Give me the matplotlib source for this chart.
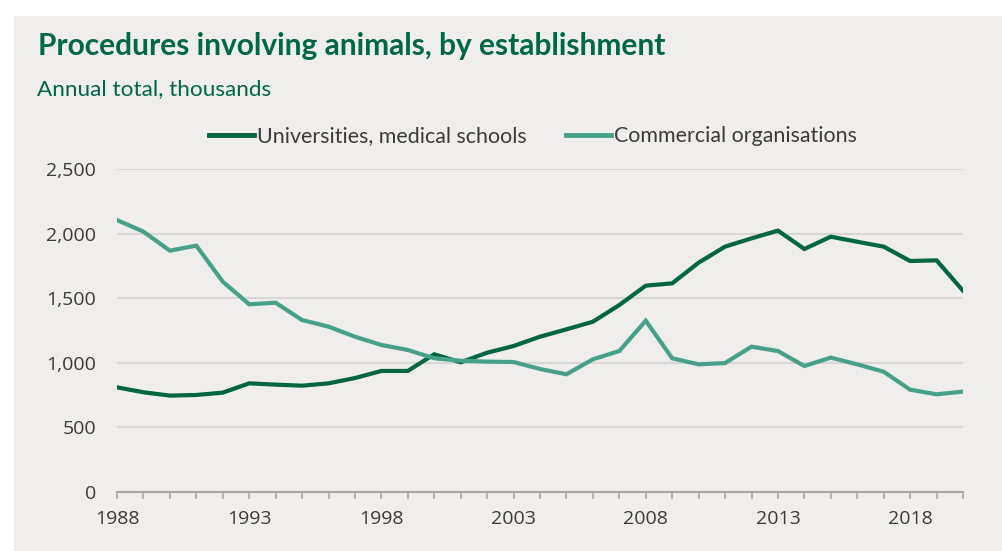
import matplotlib
matplotlib.use("Agg")
import matplotlib.pyplot as plt
from matplotlib import font_manager
from matplotlib.patches import Rectangle
from matplotlib.ticker import FixedLocator, FuncFormatter

years = list(range(1988, 2021))
universities = [810, 772, 746, 751, 769, 841, 831, 823, 841, 882, 937, 937, 1066, 1004, 1078,
                1130, 1202, 1259, 1318, 1447, 1597, 1615, 1775, 1899, 1963, 2023, 1881, 1976,
                1937, 1899, 1788, 1793, 1558]
commercial = [2105, 2015, 1868, 1907, 1628, 1453, 1465, 1331, 1280, 1202, 1138, 1099, 1035, 1016,
              1009, 1006, 952, 911, 1027, 1091, 1326, 1035, 988, 998, 1125, 1091, 975, 1040, 988,
              931, 792, 756, 777]
series_names = ["Universities, medical schools", "Commercial organisations"]
yticks = [0, 500, 1000, 1500, 2000, 2500]
xlabel_years = [1988, 1993, 1998, 2003, 2008, 2013, 2018]
title = "Procedures involving animals, by establishment"
subtitle = "Annual total, thousands"

names = {f.name for f in font_manager.fontManager.ttflist}
headfont = "Lato" if "Lato" in names else "DejaVu Sans"
tickfont = "Open Sans" if "Open Sans" in names else "DejaVu Sans"
plt.rcParams["font.family"] = [tickfont, "DejaVu Sans"]

DARK = "#00663f"
LIGHT = "#47a18a"
GREEN_TXT = "#006747"
BG = "#efeeec"
TXT = "#3a3a3a"

fig = plt.figure(figsize=(10.02, 5.51), dpi=100)
fig.patch.set_facecolor("white")
fig.patches.append(Rectangle((14 / 1002, 0), 1 - 14 / 1002, 1 - 16 / 551, transform=fig.transFigure,
                             facecolor=BG, edgecolor="none", zorder=-10))

ax = fig.add_axes([117 / 1002, 59 / 551, (963 - 117) / 1002, (492 - 169) / 551])
ax.patch.set_alpha(0)

ax.plot(years, universities, color=DARK, lw=3.0, solid_joinstyle="miter", label=series_names[0], zorder=3)
ax.plot(years, commercial, color=LIGHT, lw=3.0, solid_joinstyle="miter", label=series_names[1], zorder=3)

ax.set_xlim(years[0], years[-1])
ax.set_ylim(0, 2500)
ax.set_yticks(yticks)
ax.yaxis.set_major_formatter(FuncFormatter(lambda v, p: f"{int(v):,}"))
ax.grid(axis="y", color="#d8d7d5", lw=1.5, zorder=1)
ax.set_axisbelow(True)

ax.xaxis.set_major_locator(FixedLocator(xlabel_years))
ax.xaxis.set_minor_locator(FixedLocator(years))
ax.tick_params(axis="x", which="both", length=5, width=1.2, color="#a6a6a6", direction="out", pad=8,
               labelsize=14, labelcolor=TXT)
ax.tick_params(axis="y", length=0, pad=15, labelsize=14, labelcolor=TXT)

for s in ["top", "right", "left"]:
    ax.spines[s].set_visible(False)
ax.spines["bottom"].set_color("#a6a6a6")
ax.spines["bottom"].set_linewidth(1.5)
ax.spines["bottom"].set_zorder(2)

fig.text(38 / 1002, 1 - 46 / 551, title, fontsize=21.5, fontweight="bold", color=GREEN_TXT,
         family=headfont, va="center", ha="left")
fig.text(37 / 1002, 1 - 89 / 551, subtitle, fontsize=16.2, color=GREEN_TXT,
         family=headfont, va="center", ha="left")

leg = fig.legend(loc="center", bbox_to_anchor=(533 / 1002, 1 - 136 / 551), ncol=2, frameon=False,
                 handlelength=2.1, handletextpad=0.15, columnspacing=1.85,
                 prop={"family": headfont, "size": 15.4})
for t in leg.get_texts():
    t.set_color(TXT)
for h in leg.get_lines():
    h.set_linewidth(3.5)

fig.savefig("out.png", dpi=100, facecolor=fig.get_facecolor())
